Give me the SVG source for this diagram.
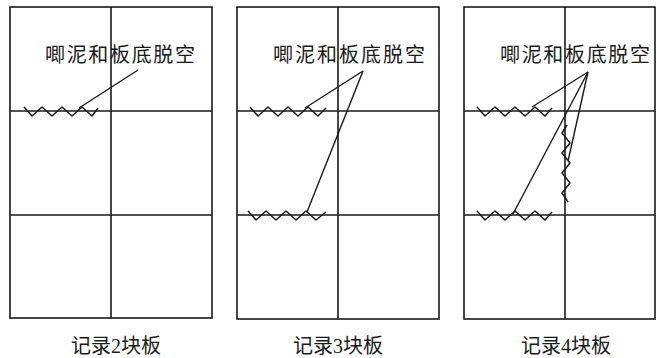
<svg xmlns="http://www.w3.org/2000/svg" width="657" height="358" viewBox="0 0 657 358">
<style>
.frame{fill:none;stroke:#1a1a1a;stroke-width:1.6}
.grid{stroke:#1a1a1a;stroke-width:1.6}
.zig{fill:none;stroke:#1a1a1a;stroke-width:1.5;stroke-linejoin:round}
.lead{stroke:#1a1a1a;stroke-width:1.4;fill:none}
.lbl{font-family:"Liberation Serif","Noto Sans CJK SC",serif;font-size:20px;fill:#1a1a1a}
.cap{font-family:"Liberation Serif","Noto Sans CJK SC",serif;font-size:20px;fill:#1a1a1a;text-anchor:middle}
</style>
<rect width="657" height="358" fill="#ffffff"/>
<g id="panel1">
<rect class="frame" x="10" y="7" width="202" height="311"/>
<line class="grid" x1="111" y1="7" x2="111" y2="318"/>
<line class="grid" x1="10" y1="111" x2="212" y2="111"/>
<line class="grid" x1="10" y1="215" x2="212" y2="215"/>
<polyline class="zig" points="24,107 32,116 42,107 52,116 62,107 72,116 82,107 92,116 98,108"/>
<text class="lbl" x="45" y="62" textLength="150" lengthAdjust="spacing">唧泥和板底脱空</text>
<text class="cap" x="116" y="353">记录2块板</text>
</g>
<g id="panel2">
<rect class="frame" x="237" y="7" width="202" height="312"/>
<line class="grid" x1="338" y1="7" x2="338" y2="319"/>
<line class="grid" x1="237" y1="111" x2="439" y2="111"/>
<line class="grid" x1="237" y1="215" x2="439" y2="215"/>
<polyline class="zig" points="250,107 258,116 268,107 278,116 288,107 298,116 308,107 318,116 326,108"/>
<polyline class="zig" points="248,211 256,220 266,211 276,220 286,211 296,220 306,211 316,220 326,212"/>
<text class="lbl" x="273" y="62" textLength="152" lengthAdjust="spacing">唧泥和板底脱空</text>
<text class="cap" x="338" y="353">记录3块板</text>
</g>
<g id="panel3">
<rect class="frame" x="464" y="7" width="191" height="312"/>
<line class="grid" x1="565" y1="7" x2="565" y2="319"/>
<line class="grid" x1="464" y1="111" x2="655" y2="111"/>
<line class="grid" x1="464" y1="215" x2="655" y2="215"/>
<polyline class="zig" points="477,107 485,116 495,107 505,116 515,107 525,116 535,107 545,116 552,108"/>
<polyline class="zig" points="477,211 485,220 495,211 505,220 515,211 525,220 535,211 545,220 552,212"/>
<polyline class="zig" points="567,125 562,133 570,143 562,153 570,163 562,173 570,183 562,193 568,202"/>
<text class="lbl" x="500" y="62" textLength="150" lengthAdjust="spacing">唧泥和板底脱空</text>
<text class="cap" x="566" y="353">记录4块板</text>
</g>
<g id="connectors">
<line class="lead" x1="138" y1="70" x2="79" y2="108"/>
<line class="lead" x1="363" y1="71" x2="305" y2="108"/>
<line class="lead" x1="363" y1="71" x2="307" y2="212"/>
<line class="lead" x1="588" y1="72" x2="532" y2="107"/>
<line class="lead" x1="588" y1="72" x2="513" y2="214"/>
<line class="lead" x1="588" y1="72" x2="568" y2="161"/>
</g>
</svg>
